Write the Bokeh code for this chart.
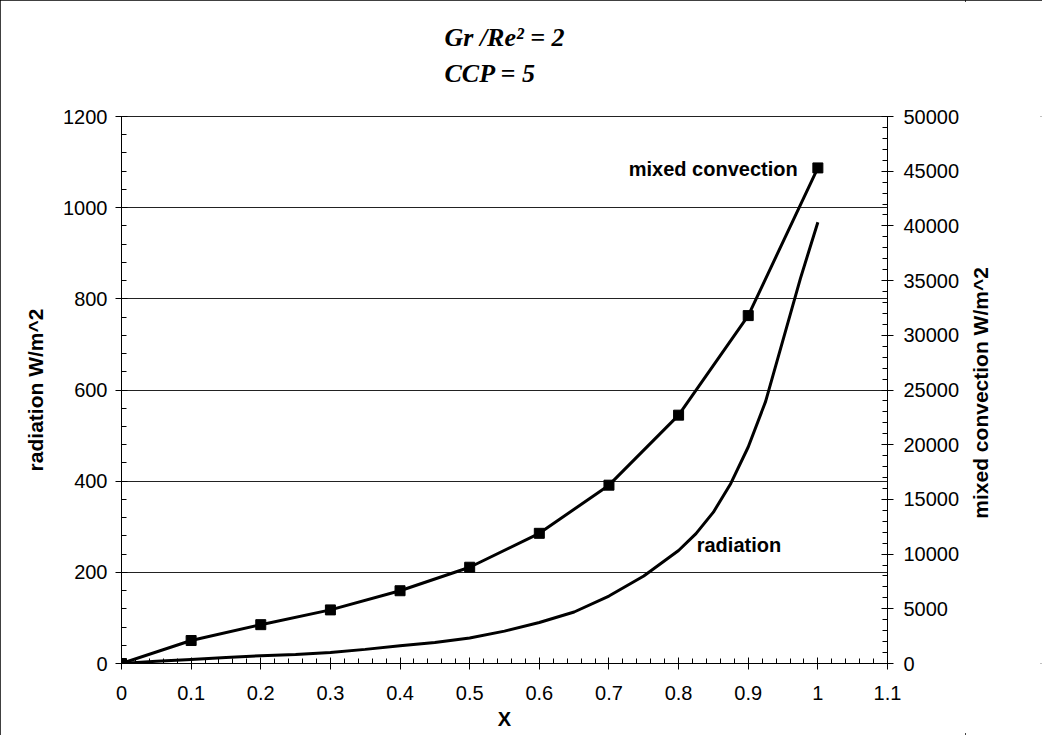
import math
from bokeh.plotting import figure
from bokeh.layouts import row
from bokeh.models import Range1d, LinearAxis, FixedTicker, CustomJSTickFormatter, Label, Title
from bokeh.embed import file_html
from bokeh.resources import INLINE

# ---- data ----
x_conv = [0.0, 0.1, 0.2, 0.3, 0.4, 0.5, 0.6, 0.7, 0.8, 0.9, 1.0]
mixed_convection = [0, 2100, 3550, 4900, 6650, 8800, 11900, 16300, 22700, 31800, 45300]

x_rad = [0.0, 0.05, 0.1, 0.15, 0.2, 0.25, 0.3, 0.35, 0.4, 0.45, 0.5, 0.55, 0.6,
         0.65, 0.7, 0.75, 0.8, 0.825, 0.85, 0.875, 0.9, 0.925, 0.95, 0.975, 1.0]
radiation = [0, 5, 9, 13, 17, 20, 24, 31, 39, 46, 56, 71, 90,
             113, 148, 192, 248, 285, 332, 395, 475, 575, 710, 845, 968]

x_ticks = [0, 0.1, 0.2, 0.3, 0.4, 0.5, 0.6, 0.7, 0.8, 0.9, 1.0, 1.1]
left_ticks = [0, 200, 400, 600, 800, 1000, 1200]
right_ticks = [0, 5000, 10000, 15000, 20000, 25000, 30000, 35000, 40000, 45000, 50000]

FONT = "Liberation Sans"
H = 735
TOP, BOTTOM = 116, 72

p = figure(width=965, height=H,
           x_range=Range1d(0, 1.1), y_range=Range1d(0, 1200),
           output_backend="svg", toolbar_location=None,
           min_border_left=121, min_border_right=78,
           min_border_top=TOP, min_border_bottom=BOTTOM)
p.extra_y_ranges = {"conv": Range1d(0, 50000)}
p.outline_line_color = "#222222"
p.outline_line_width = 1
p.background_fill_color = "white"
p.border_fill_color = "white"

x_minor = [i * 0.02 for i in range(56)]
left_minor = [i * 40 for i in range(31)]
right_minor = [i * 1000 for i in range(51)]

xt = FixedTicker(ticks=x_ticks, minor_ticks=x_minor)
lt = FixedTicker(ticks=left_ticks, minor_ticks=left_minor)
rt = FixedTicker(ticks=right_ticks, minor_ticks=right_minor)

def style_axis(ax):
    ax.axis_line_color = "black"
    ax.axis_line_width = 1
    ax.major_tick_line_color = "black"
    ax.minor_tick_line_color = "black"
    ax.major_tick_in = 6
    ax.major_tick_out = 6
    ax.minor_tick_in = 5
    ax.minor_tick_out = 0
    ax.major_label_text_font = FONT
    ax.major_label_text_font_size = "20px"
    ax.major_label_text_color = "black"
    ax.axis_label_text_font = FONT
    ax.axis_label_text_font_size = "21px"
    ax.axis_label_text_font_style = "bold"
    ax.axis_label_text_color = "black"

xa = p.xaxis[0]
xa.ticker = xt
xa.formatter = CustomJSTickFormatter(code="return String(Math.round(tick*10)/10);")
xa.axis_label = "X"
style_axis(xa)
xa.axis_label_text_font_size = "20px"
xa.major_label_standoff = 16
xa.axis_label_standoff = 5

ya = p.yaxis[0]
ya.ticker = lt
ya.axis_label = "radiation W/m^2"
style_axis(ya)
ya.major_label_standoff = 8
ya.axis_label_standoff = 13

ra = LinearAxis(y_range_name="conv", ticker=rt)
style_axis(ra)
ra.major_label_standoff = 10
p.add_layout(ra, "right")

p.xgrid.visible = False
p.ygrid.ticker = lt
p.ygrid.grid_line_color = "#222222"
p.ygrid.grid_line_width = 1

p.line(x_rad, radiation, line_color="black", line_width=3)
p.line(x_conv, mixed_convection, line_color="black", line_width=3, y_range_name="conv")
p.scatter(x_conv, mixed_convection, marker="square", size=10, color="black", y_range_name="conv")

p.add_layout(Label(x=0.971, y=1084, text="mixed convection", text_align="right",
                   text_baseline="middle", text_font=FONT, text_font_size="20px",
                   text_font_style="bold", text_color="black"))
p.add_layout(Label(x=0.826, y=260, text="radiation", text_align="left",
                   text_baseline="middle", text_font=FONT, text_font_size="20px",
                   text_font_style="bold", text_color="black"))

# heading: a thin spacer next to the frame, then the two lines
p.add_layout(Title(text=" ", text_font_size="2px", standoff=22), "above")
for txt in ["CCP = 5", "Gr /Re² = 2"]:
    p.add_layout(Title(text=txt, align="left", offset=323, text_font="Liberation Serif",
                       text_font_size="26px", text_font_style="bold italic",
                       text_color="black", standoff=5), "above")

# narrow companion panel that carries the right-hand axis title, read bottom to top
p2 = figure(width=77, height=H, y_range=Range1d(0, 1), x_range=Range1d(0, 1),
            output_backend="svg", toolbar_location=None, x_axis_location=None,
            min_border_left=24, min_border_right=0,
            min_border_top=TOP, min_border_bottom=BOTTOM)
p2.outline_line_color = None
p2.grid.visible = False
p2.border_fill_color = "white"
ax2 = p2.yaxis[0]
ax2.ticker = FixedTicker(ticks=[])
ax2.axis_line_color = None
ax2.major_tick_line_color = None
ax2.minor_tick_line_color = None
ax2.major_tick_out = 0
ax2.major_tick_in = 0
ax2.axis_label = "mixed convection  W/m^2"
ax2.axis_label_standoff = 0
ax2.axis_label_text_font = FONT
ax2.axis_label_text_font_size = "21px"
ax2.axis_label_text_font_style = "bold"
ax2.axis_label_text_color = "black"

layout = row(p, p2, spacing=0)
layout.styles = {"outline": "2px solid black", "outline-offset": "-2px"}

open("out.html", "w").write(file_html(layout, INLINE))
